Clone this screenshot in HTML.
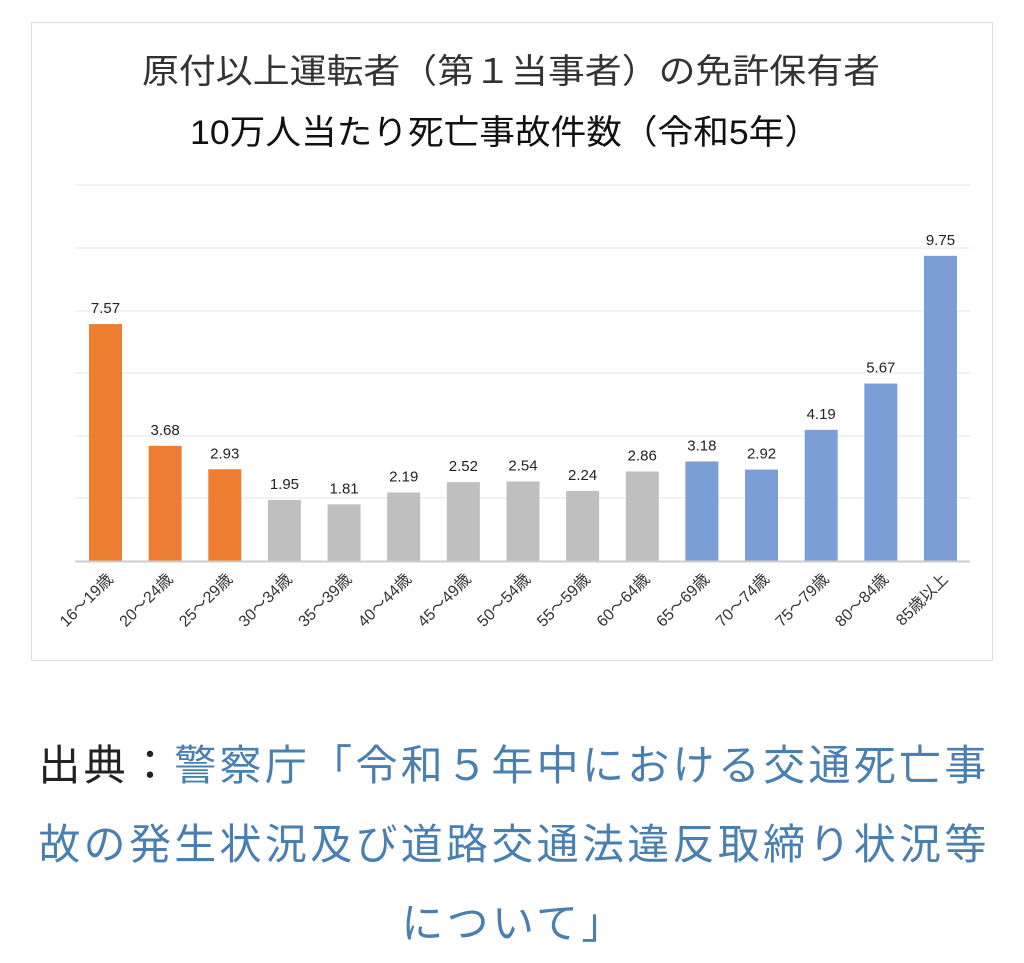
<!DOCTYPE html>
<html><head><meta charset="utf-8"><style>
body{margin:0;width:1024px;height:961px;background:#fff;font-family:"Liberation Sans","Noto Sans CJK JP",sans-serif;overflow:hidden}
.src{position:absolute;left:20px;top:726px;width:988px;text-align:center;font-size:42px;line-height:79px;color:#4a7fb0;letter-spacing:3.3px;white-space:nowrap}
.src b{font-weight:normal;color:#222}
</style></head><body>
<svg width="1024" height="700" style="position:absolute;left:0;top:0" font-family="Liberation Sans, Noto Sans CJK JP, sans-serif">
<rect x="31.5" y="22.5" width="961" height="638" fill="#fff" stroke="#ddd"/>
<text x="142" y="83" textLength="738" lengthAdjust="spacingAndGlyphs" font-size="34" fill="#333">原付以上運転者（第１当事者）の免許保有者</text>
<text x="190" y="144" textLength="630" lengthAdjust="spacingAndGlyphs" font-size="34" fill="#111">10万人当たり死亡事故件数（令和5年）</text>
<g stroke="#eee" stroke-width="1.5">
<line x1="75" x2="970" y1="185" y2="185"/><line x1="75" x2="970" y1="248" y2="248"/><line x1="75" x2="970" y1="311" y2="311"/><line x1="75" x2="970" y1="373" y2="373"/><line x1="75" x2="970" y1="436" y2="436"/><line x1="75" x2="970" y1="498" y2="498"/>
</g>
<g id="bars"></g>
<line x1="75" x2="970" y1="561.5" y2="561.5" stroke="#ccc" stroke-width="2"/>
</svg>
<script>
var v=[7.57,3.68,2.93,1.95,1.81,2.19,2.52,2.54,2.24,2.86,3.18,2.92,4.19,5.67,9.75];
var l=["16～19歳","20～24歳","25～29歳","30～34歳","35～39歳","40～44歳","45～49歳","50～54歳","55～59歳","60～64歳","65～69歳","70～74歳","75～79歳","80～84歳","85歳以上"];
var g=document.getElementById("bars"),s="";
for(var i=0;i<15;i++){var x=89+i*59.64,h=v[i]*31.3,c=i<3?"#ED7D31":i<10?"#BFBFBF":"#7C9ED6";
s+='<rect x="'+x+'" y="'+(561-h)+'" width="33" height="'+h+'" fill="'+c+'"/>';
s+='<text x="'+(x+16.5)+'" y="'+(561-h-11)+'" text-anchor="middle" font-size="15" fill="#222">'+v[i].toFixed(2)+'</text>';
s+='<text transform="translate('+(x+25)+',580) rotate(-45)" text-anchor="end" font-size="16" fill="#333">'+l[i]+'</text>';}
g.innerHTML=s;
</script>
<div class="src"><b>出典：</b>警察庁「令和５年中における交通死亡事<br>故の発生状況及び道路交通法違反取締り状況等<br>について」</div>
</body></html>
